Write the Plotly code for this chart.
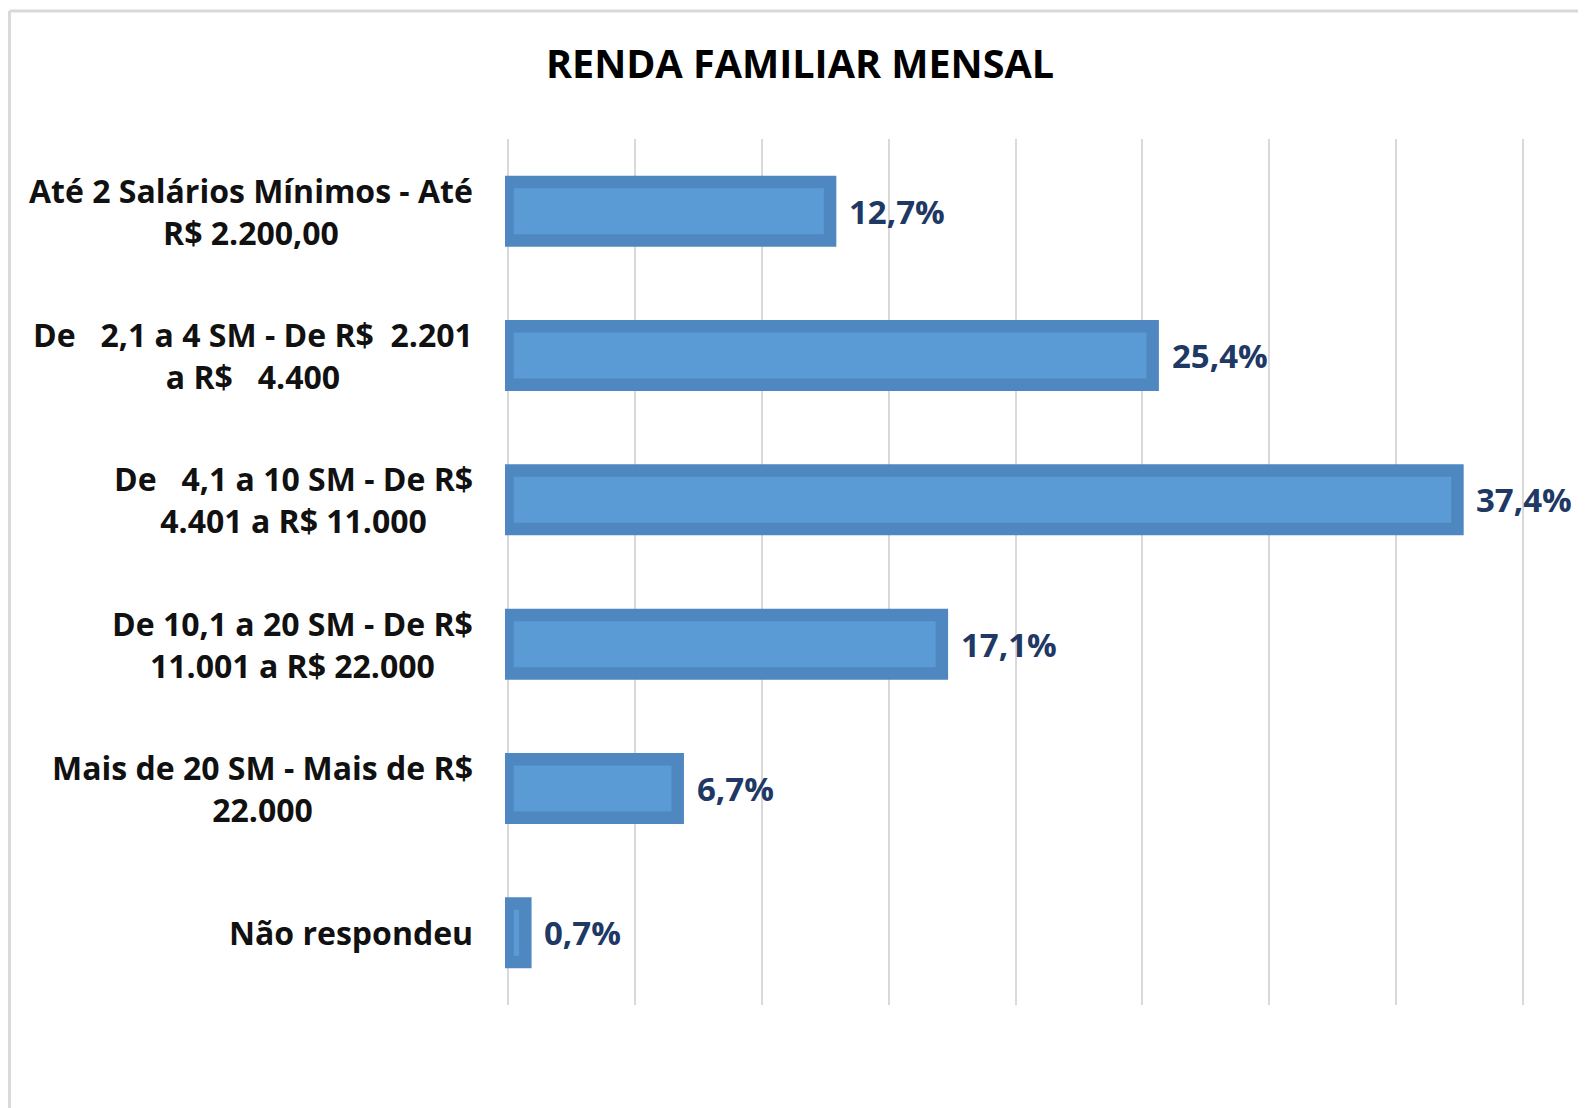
import plotly.graph_objects as go

categories = [
    "Até 2 Salários Mínimos - Até<br>R$ 2.200,00",
    "De\u00a0\u00a0 2,1 a 4 SM - De R$\u00a0 2.201<br>a R$\u00a0\u00a0 4.400",
    "De\u00a0\u00a0 4,1 a 10 SM - De R$<br>4.401 a R$ 11.000",
    "De 10,1 a 20 SM - De R$<br>11.001 a R$ 22.000",
    "Mais de 20 SM - Mais de R$<br>22.000",
    "Não respondeu",
]
values = [12.7, 25.4, 37.4, 17.1, 6.7, 0.7]
value_labels = ["12,7%", "25,4%", "37,4%", "17,1%", "6,7%", "0,7%"]
title_text = "RENDA FAMILIAR MENSAL"

FONT = "Open Sans, Calibri, sans-serif"
OFF = 8  # browser body margin
W, H = 1586 - OFF, 1108 - OFF
L, R, T, B = 507 - 2.5 - OFF, 1586 - 1526.5, 139 - OFF, 1108 - 1005

fig = go.Figure()
fig.add_trace(go.Bar(
    x=values, y=list(range(len(categories))), orientation="h",
    marker=dict(color="#5B9BD5", line=dict(color="#4F88C0", width=12.5)),
    width=0.405, hoverinfo="skip",
))

annotations = []
for i, (v, lab) in enumerate(zip(values, value_labels)):
    annotations.append(dict(
        x=v, y=i, xref="x", yref="y", text=lab, showarrow=False,
        xanchor="left", yanchor="middle", xshift=17,
        font=dict(family=FONT, size=33, color="#203864", weight="bold"),
    ))
for i, cat in enumerate(categories):
    annotations.append(dict(
        x=0, y=i, xref="paper", yref="y", text=cat, showarrow=False,
        xanchor="right", yanchor="middle", xshift=-30, align="center",
        font=dict(family=FONT, size=32, color="#111111", weight="bold"),
    ))

pw = W - L - R
ph = H - T - B
fx = lambda px: (px - L) / pw
fy = lambda py: (H - B - py) / ph
shapes = [
    dict(type="line", xref="paper", yref="paper", x0=fx(0.5), x1=fx(W + 20),
         y0=fy(3), y1=fy(3), line=dict(color="#D9D9D9", width=3), layer="below"),
    dict(type="line", xref="paper", yref="paper", x0=fx(0.5), x1=fx(0.5),
         y0=fy(3), y1=fy(H + 20), line=dict(color="#D9D9D9", width=3), layer="below"),
]

fig.update_layout(
    width=W, height=H, autosize=False,
    margin=dict(l=L, r=R, t=T, b=B, pad=0),
    paper_bgcolor="white", plot_bgcolor="white",
    showlegend=False,
    title=dict(text=title_text, x=(800 - OFF) / W, xanchor="center", y=1 - (64.5 - OFF) / H,
               yanchor="middle",
               font=dict(family=FONT, size=39.5, color="#000000", weight="bold")),
    xaxis=dict(range=[-0.1, 40.1], dtick=5, tick0=0, showgrid=True, gridcolor="#D9D9D9",
               gridwidth=2, zeroline=False, showticklabels=False, showline=False, ticks=""),
    yaxis=dict(range=[len(categories) - 0.5, -0.5], showticklabels=False, showgrid=False,
               zeroline=False, showline=False, ticks=""),
    annotations=annotations,
    shapes=shapes,
)

fig.write_html("out.html")
